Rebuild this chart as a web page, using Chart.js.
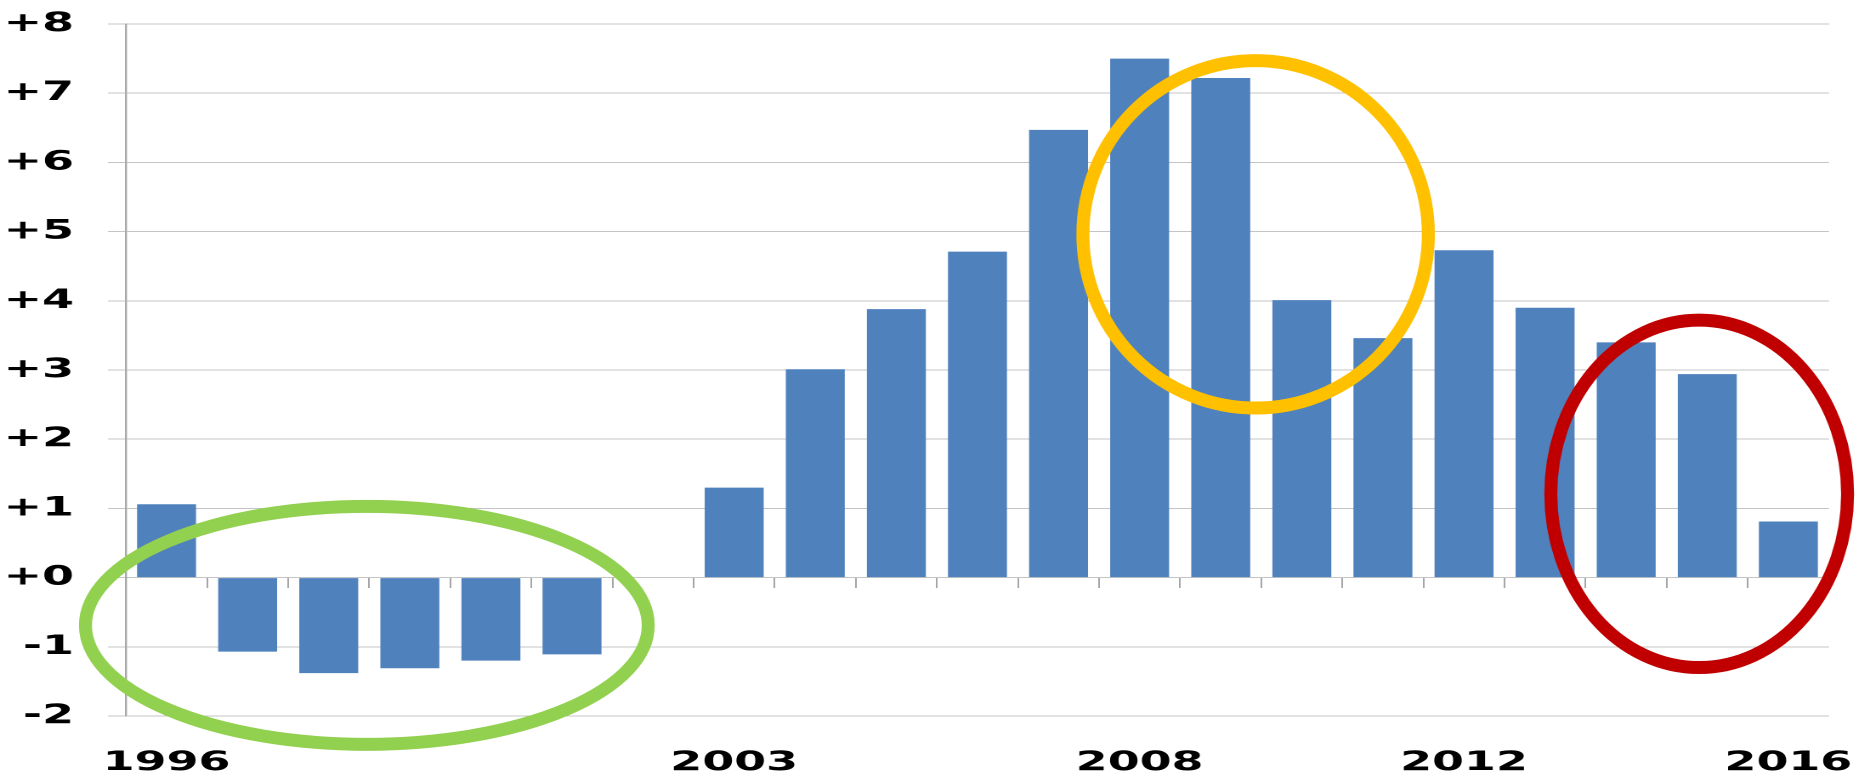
<!DOCTYPE html>
<html>
<head>
<meta charset="utf-8">
<script src="https://cdn.jsdelivr.net/npm/chart.js@4/dist/chart.umd.min.js"></script>
<style>
  html, body { margin: 0; padding: 0; background: #ffffff; overflow: hidden; width: 1857px; height: 777px; }
  #wrap { position: absolute; left: 0; top: 0; height: 777px; transform-origin: 0 0; }
</style>
</head>
<body>
<div id="wrap"><canvas id="chart"></canvas></div>
<script>
// ---- data ----
const years = ['1996','1997','1998','1999','2000','2001','2002','2003','2004','2005','2006',
               '2007','2008','2009','2010','2011','2012','2013','2014','2015','2016'];
const balance = [1.06, -1.07, -1.38, -1.31, -1.20, -1.11, null, 1.30, 3.01, 3.88, 4.71,
                 6.47, 7.50, 7.22, 4.01, 3.46, 4.73, 3.90, 3.40, 2.94, 0.81];
const labelledYears = ['1996', '2003', '2008', '2012', '2016'];
const yMin = -2;
const yMax = 8;
const yStep = 1;

// ---- annotation ellipses (centre in category index / value units, radii in same units) ----
const highlightRings = [
  { x: 2.47,  y: -0.69, rx: 3.47, ry: 1.72, color: '#92d050' },
  { x: 13.43, y: 4.96,  rx: 2.13, ry: 2.51, color: '#ffc000' },
  { x: 18.90, y: 1.21,  rx: 1.83, ry: 2.51, color: '#c00000' }
];

// The reference picture is horizontally stretched; reproduce that stretch.
const STRETCH = 1.7;
const PAGE_W = 1857;
const wrap = document.getElementById('wrap');
wrap.style.width = (PAGE_W / STRETCH) + 'px';
wrap.style.transform = 'scaleX(' + STRETCH + ')';

const FONT = { family: 'DejaVu Sans', size: 27, weight: 'bold' };

const ringPlugin = {
  id: 'rings',
  afterDatasetsDraw(chart, args, opts) {
    const { ctx, scales: { x, y } } = chart;
    const unit = x.getPixelForValue(1) - x.getPixelForValue(0);
    ctx.save();
    ctx.scale(1 / STRETCH, 1);
    opts.items.forEach(r => {
      const cx = x.getPixelForValue(r.x) * STRETCH;
      const cy = y.getPixelForValue(r.y);
      const rx = r.rx * unit * STRETCH;
      const ry = Math.abs(y.getPixelForValue(r.y + r.ry) - cy);
      ctx.beginPath();
      ctx.ellipse(cx, cy, rx, ry, 0, 0, Math.PI * 2);
      ctx.strokeStyle = r.color;
      ctx.lineWidth = opts.lineWidth;
      ctx.stroke();
    });
    ctx.restore();
  }
};

new Chart(document.getElementById('chart'), {
  type: 'bar',
  data: {
    labels: years,
    datasets: [{
      data: balance,
      backgroundColor: '#4f81bd',
      borderWidth: 0,
      categoryPercentage: 1.0,
      barPercentage: 0.727
    }]
  },
  options: {
    responsive: true,
    maintainAspectRatio: false,
    animation: false,
    devicePixelRatio: 2,
    layout: { padding: { top: 24, right: PAGE_W / STRETCH - 1829 / STRETCH, bottom: 0, left: 0 } },
    plugins: {
      legend: { display: false },
      tooltip: { enabled: false },
      rings: { lineWidth: 13, items: highlightRings }
    },
    scales: {
      x: {
        type: 'category',
        offset: true,
        grid: { display: false, drawTicks: false },
        border: { display: false },
        ticks: {
          autoSkip: false, maxRotation: 0, minRotation: 0, padding: 31,
          color: '#000000', font: FONT,
          callback(v) {
            const l = this.getLabelForValue(v);
            return labelledYears.includes(l) ? l : '';
          }
        },
        afterFit(s) { s.height = 61; s.paddingLeft = 0; s.paddingRight = 0; s.paddingTop = 0; s.paddingBottom = 0; }
      },
      xZero: {
        axis: 'x',
        type: 'category',
        position: { y: 0 },
        offset: true,
        grid: { offset: true, drawOnChartArea: false, drawTicks: true, tickLength: 10, color: '#a6a6a6', lineWidth: 1 },
        border: { display: true, color: '#c4c4c4', width: 1 },
        ticks: { display: false },
        afterFit(s) { s.paddingLeft = 0; s.paddingRight = 0; s.paddingTop = 0; s.paddingBottom = 0; }
      },
      y: {
        min: yMin, max: yMax,
        ticks: {
          stepSize: yStep, padding: 20, color: '#000000', font: FONT,
          callback: v => (v >= 0 ? '+' : '') + v
        },
        grid: { color: '#c4c4c4', lineWidth: 1, drawTicks: true, tickLength: 10.6 },
        border: { display: true, color: '#a8a8a8', width: 1.2 },
        afterFit(s) { s.width = 126 / STRETCH; s.paddingTop = 0; s.paddingBottom = 0; }
      }
    }
  },
  plugins: [ringPlugin]
});
</script>
</body>
</html>
